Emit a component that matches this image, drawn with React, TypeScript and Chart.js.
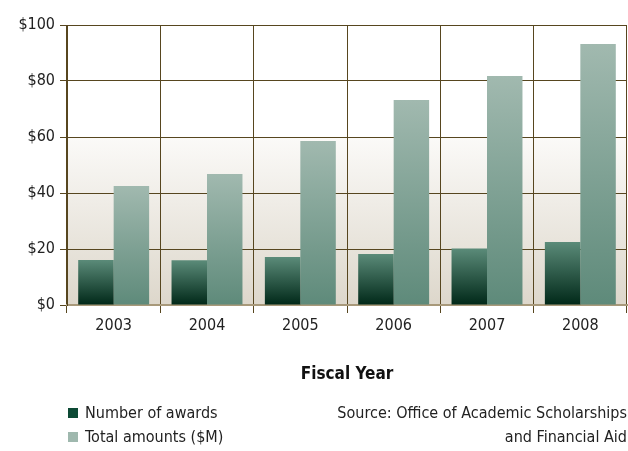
import React, { useEffect, useRef } from "react";
import { Chart, registerables } from "chart.js";

Chart.register(...registerables);

const categories = ["2003", "2004", "2005", "2006", "2007", "2008"];
const awardsSeries = [16.1, 16.0, 17.1, 18.2, 20.2, 22.5];
const amountSeries = [42.5, 46.8, 58.6, 73.2, 81.8, 93.2];
const yTickValues = [0, 20, 40, 60, 80, 100];
const xTitle = "Fiscal Year";
const legendLabels = ["Number of awards", "Total amounts ($M)"];
const sourceLines = ["Source: Office of Academic Scholarships", "and Financial Aid"];

const FONT = "'Liberation Sans Narrow', 'DejaVu Sans Condensed', 'Open Sans', sans-serif";
const GRID = "#57461f";
const TAN = "#a8997a";

function barGradient(top: string, bottom: string) {
  return (ctx: any) => {
    const chart = ctx.chart;
    if (!chart.chartArea || !chart.scales || !chart.scales.y || ctx.raw == null) return bottom;
    const y = chart.scales.y;
    const t = y.getPixelForValue(ctx.raw);
    const b = y.getPixelForValue(0);
    if (!isFinite(t) || !isFinite(b) || t === b) return bottom;
    const g = chart.ctx.createLinearGradient(0, t, 0, b);
    g.addColorStop(0, top);
    g.addColorStop(1, bottom);
    return g;
  };
}

const bgPlugin = {
  id: "plotBg",
  beforeDraw(chart: any) {
    const { ctx, chartArea } = chart;
    if (!chartArea) return;
    const y = chart.scales.y;
    const y60 = y.getPixelForValue(60);
    const y0 = y.getPixelForValue(0);
    ctx.save();
    ctx.fillStyle = "#ffffff";
    ctx.fillRect(chartArea.left, chartArea.top, chartArea.right - chartArea.left, y60 - chartArea.top);
    const g = ctx.createLinearGradient(0, y60, 0, y0);
    g.addColorStop(0, "#fbfaf8");
    g.addColorStop(1, "#ddd7cb");
    ctx.fillStyle = g;
    ctx.fillRect(chartArea.left, y60, chartArea.right - chartArea.left, y0 - y60);
    ctx.restore();
  },
};

export default function App() {
  const ref = useRef<HTMLCanvasElement | null>(null);
  useEffect(() => {
    if (!ref.current) return;
    const chart = new Chart(ref.current, {
      type: "bar",
      data: {
        labels: categories,
        datasets: [
          {
            label: legendLabels[0],
            data: awardsSeries,
            backgroundColor: barGradient("#5b8b79", "#002818"),
            borderWidth: 0,
            barPercentage: 1,
            categoryPercentage: 0.76,
          },
          {
            label: legendLabels[1],
            data: amountSeries,
            backgroundColor: barGradient("#a1b9af", "#5e8a7a"),
            borderWidth: 0,
            barPercentage: 1,
            categoryPercentage: 0.76,
          },
        ],
      },
      options: {
        animation: false,
        responsive: false,
        maintainAspectRatio: false,
        layout: { padding: { top: 25, right: 1, left: 0, bottom: 0 } },
        plugins: { legend: { display: false }, tooltip: { enabled: false } },
        scales: {
          x: {
            grid: {
              offset: true,
              color: (c: any) => (c.index === categories.length ? TAN : GRID),
              lineWidth: 1,
              tickLength: 8,
              drawTicks: true,
            },
            border: { color: TAN, width: 2 },
            ticks: { color: "#222", padding: 3, font: { family: FONT, size: 16 } },
            title: {
              display: true,
              text: xTitle,
              color: "#111",
              font: { family: FONT, size: 17, weight: "bold" },
              padding: { top: 0, bottom: 66 },
            },
            afterFit: (s: any) => {
              s.height = 146;
            },
          },
          y: {
            min: 0,
            max: 100,
            afterBuildTicks: (s: any) => {
              s.ticks = yTickValues.map((v) => ({ value: v }));
            },
            grid: { color: GRID, lineWidth: 1, tickLength: 7 },
            border: { color: GRID, width: 1 },
            ticks: {
              color: "#222",
              padding: 5,
              font: { family: FONT, size: 16 },
              callback: (v: any) => "$" + v,
            },
            afterFit: (s: any) => {
              s.width = 67;
            },
          },
        },
      },
      plugins: [bgPlugin],
    });
    return () => chart.destroy();
  }, []);

  const textStyle: React.CSSProperties = {
    fontFamily: FONT,
    fontSize: 16,
    color: "#222",
    lineHeight: "24px",
    position: "absolute",
    whiteSpace: "nowrap",
  };
  const sw = (c: string): React.CSSProperties => ({
    display: "inline-block",
    width: 10,
    height: 10,
    background: c,
    marginRight: 7,
    verticalAlign: "middle",
    position: "relative",
    top: -1,
  });

  return (
    <div style={{ position: "absolute", left: 0, top: 0, width: 628, height: 451, background: "#fff" }}>
      <canvas ref={ref} width={628} height={451} style={{ display: "block" }} />
      <div style={{ ...textStyle, left: 68, top: 401 }}>
        <div>
          <span style={sw("#0d4a35")} />
          {legendLabels[0]}
        </div>
        <div>
          <span style={sw("#9fb8ae")} />
          {legendLabels[1]}
        </div>
      </div>
      <div style={{ ...textStyle, right: 1, top: 401, textAlign: "right" }}>
        <div>{sourceLines[0]}</div>
        <div>{sourceLines[1]}</div>
      </div>
    </div>
  );
}
